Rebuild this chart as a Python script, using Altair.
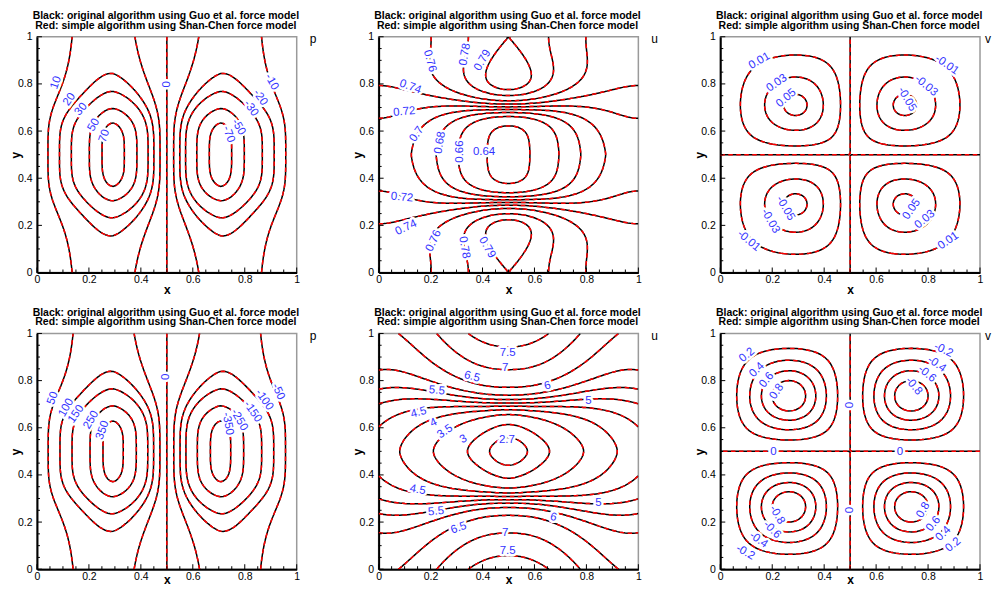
import numpy as np
import pandas as pd
import altair as alt

FONT = "Liberation Sans"
TITLE_LINES = ["Black: original algorithm using Guo et al. force model",
               "Red: simple algorithm using Shan-Chen force model"]
VAR_NAMES = ["p", "u", "v", "p", "u", "v"]
AXIS_TICKS = [0, 0.2, 0.4, 0.6, 0.8, 1]
MINOR_TICKS = [0.05, 0.1, 0.15, 0.25, 0.3, 0.35, 0.45, 0.5, 0.55, 0.65, 0.7, 0.75, 0.85, 0.9, 0.95]

# ---------------- contour levels ----------------
P1_LEVELS = [-70, -50, -30, -20, -10, 0, 10, 20, 30, 50, 70]
U1_LEVELS = [0.64, 0.66, 0.68, 0.7, 0.72, 0.74, 0.76, 0.78, 0.79]
V1_LEVELS = [-0.05, -0.03, -0.01, 0, 0.01, 0.03, 0.05]
P2_LEVELS = [-350, -250, -150, -100, -50, 0, 50, 100, 150, 250, 350]
U2_LEVELS = [2.7, 3, 3.5, 4, 4.5, 5, 5.5, 6, 6.5, 7, 7.5]
V2_LEVELS = [-0.8, -0.6, -0.4, -0.2, 0, 0.2, 0.4, 0.6, 0.8]

# ---------------- contour labels: position, text, rotation ----------------
P1_LX = [0.074, 0.125, 0.17, 0.219, 0.26, 0.5, 0.903, 0.859, 0.823, 0.775, 0.737]
P1_LY = [0.805, 0.734, 0.692, 0.626, 0.579, 0.798, 0.808, 0.742, 0.696, 0.617, 0.586]
P1_LT = ["10", "20", "30", "50", "70", "0", "-10", "-20", "-30", "-50", "-70"]
P1_LA = [290, 305, 310, 300, 290, 270, 60, 55, 55, 60, 70]

U1_LX = [0.196, 0.333, 0.401, 0.122, 0.099, 0.147, 0.237, 0.314, 0.406, 0.09, 0.106, 0.212, 0.329, 0.417]
U1_LY = [0.897, 0.925, 0.9, 0.787, 0.681, 0.586, 0.551, 0.513, 0.511, 0.318, 0.19, 0.134, 0.106, 0.106]
U1_LT = ["0.76", "0.78", "0.79", "0.74", "0.72", "0.7", "0.68", "0.66", "0.64",
         "0.72", "0.74", "0.76", "0.78", "0.79"]
U1_LA = [75, 280, 300, 20, 355, 305, 280, 270, 0, 5, 335, 295, 80, 60]

V1_LX = [0.151, 0.218, 0.254, 0.872, 0.792, 0.718, 0.25, 0.192, 0.109, 0.737, 0.788, 0.878]
V1_LY = [0.897, 0.803, 0.739, 0.880, 0.792, 0.735, 0.272, 0.218, 0.134, 0.268, 0.225, 0.134]
V1_LT = ["0.01", "0.03", "0.05", "-0.01", "-0.03", "-0.05", "-0.05", "-0.03", "-0.01", "0.05", "0.03", "0.01"]
V1_LA = [330, 325, 320, 35, 40, 60, 60, 60, 40, 305, 320, 325]

P2_LX = [0.061, 0.113, 0.151, 0.209, 0.253, 0.497, 0.928, 0.874, 0.83, 0.778, 0.734]
P2_LY = [0.725, 0.685, 0.658, 0.633, 0.59, 0.816, 0.753, 0.718, 0.668, 0.633, 0.617]
P2_LT = ["50", "100", "150", "250", "350", "0", "-50", "-100", "-150", "-250", "-350"]
P2_LA = [290, 300, 305, 300, 290, 270, 65, 55, 55, 60, 80]

U2_LX = [0.497, 0.487, 0.359, 0.65, 0.224, 0.808, 0.154, 0.212, 0.256, 0.327, 0.494,
         0.15, 0.846, 0.221, 0.673, 0.308, 0.487, 0.497]
U2_LY = [0.915, 0.852, 0.816, 0.777, 0.757, 0.715, 0.664, 0.621, 0.583, 0.551, 0.548,
         0.336, 0.28, 0.244, 0.22, 0.174, 0.153, 0.079]
U2_LT = ["7.5", "7", "6.5", "6", "5.5", "5", "4.5", "4", "3.5", "3", "2.7",
         "4.5", "5", "5.5", "6", "6.5", "7", "7.5"]
U2_LA = [0, 0, 15, 345, 5, 0, 345, 335, 325, 330, 0, 10, 0, 355, 15, 340, 0, 0]

V2_LX = [0.103, 0.141, 0.179, 0.218, 0.859, 0.833, 0.795, 0.744, 0.5, 0.205, 0.692, 0.5,
         0.218, 0.199, 0.147, 0.096, 0.782, 0.821, 0.859, 0.897]
V2_LY = [0.908, 0.845, 0.802, 0.753, 0.929, 0.869, 0.828, 0.777, 0.696, 0.496, 0.496, 0.251,
         0.23, 0.167, 0.124, 0.071, 0.251, 0.192, 0.15, 0.103]
V2_LT = ["0.2", "0.4", "0.6", "0.8", "-0.2", "-0.4", "-0.6", "-0.8", "0", "0", "0", "0",
         "-0.8", "-0.6", "-0.4", "-0.2", "0.8", "0.6", "0.4", "0.2"]
V2_LA = [320, 315, 310, 305, 25, 35, 40, 50, 270, 0, 0, 270, 60, 45, 35, 30, 300, 310, 315, 320]

# ---------------- field parameters ----------------
P_SCALE = [1.0, 4.9]          # top / bottom pressure amplitude
P_FAR, P_NEAR, P_BUMP = 12.5, 25.5, 46.0
P_PEAK_D, P_W_IN, P_W_OUT, P_Q, P_R0, P_POW = 0.2, 0.215, 0.09, 1.7, 0.207, 4.0

# u: (value at x=0, value at x=0.5) pairs
U1_PAR = dict(uin=(0.71, 0.635), inshape="sin2", uout=(0.75, 0.796), c=(0.22, 0.2), w=(0.12, 0.045),
              alpha=(1.0, 1.0), dip=0.006, dipw=0.15)
U2_PAR = dict(uin=(4.3, 2.55), inshape="lin", uout=(6.43, 7.8), c=(0.24, 0.2), w=(0.1, 0.045),
              alpha=(0.6, 0.55), dip=0.0, dipw=0.15)

V_AMP = [0.064, 1.13]
V_CENTRE = [0.29, 0.265]

W, H = 260, 236
N = 100
GX = np.linspace(1e-4, 1 - 1e-4, N)
X, Y = np.meshgrid(GX, GX)


def sig(z):
    return 0.5 * (1 + np.tanh(z))


def soft_abs(d, eps=0.05):
    return (np.sqrt(d ** 2 + eps ** 2) - eps) / (np.sqrt(0.25 + eps ** 2) - eps)


def p_field(scale):
    d = np.abs(X - 0.5)
    r = np.abs(Y - 0.5)
    wid = np.where(d < P_PEAK_D, P_W_IN, P_W_OUT)
    e = np.exp(-(np.abs(d - P_PEAK_D) / wid) ** P_Q)
    yr = 1 / (1 + (r / P_R0) ** P_POW)
    q = P_FAR + yr * (P_NEAR + P_BUMP * e)
    return scale * np.sin(2 * np.pi * X) * q


def u_field(par):
    b = np.sin(np.pi * X) ** 2
    r = np.abs(Y - 0.5)
    mix = lambda pair, t=b: pair[0] + (pair[1] - pair[0]) * t
    if par["inshape"] == "lin":
        uin = mix(par["uin"], 1 - soft_abs(np.abs(X - 0.5)))
    else:
        uin = mix(par["uin"])
    uout, c, w, al = mix(par["uout"]), mix(par["c"]), mix(par["w"]), mix(par["alpha"])
    f = al * sig((r - c) / w) + (1 - al) * soft_abs(r)
    dip = par["dip"] * np.exp(-((0.5 - r) / par["dipw"]) ** 2)
    return uin + (uout - uin) * f - dip


def v_field(amp, cx):
    a = np.log(0.5) / np.log(2 * cx)
    qx = np.where(X < 0.5, X, 1 - X)
    qy = np.where(Y < 0.5, Y, 1 - Y)
    sx = np.where(X < 0.5, 1.0, -1.0)
    sy = np.where(Y > 0.5, 1.0, -1.0)
    s = np.sin(np.pi * (qx / 0.5) ** a) * np.sin(np.pi * (qy / 0.5) ** a)
    return sx * sy * amp * (1 - np.sqrt(np.clip(1 - s, 0, 1)))


def contour_paths(Z, level):
    above = Z > level
    code = (above[:-1, :-1].astype(int) + 2 * above[:-1, 1:] + 4 * above[1:, 1:] + 8 * above[1:, :-1])
    js, iis = np.nonzero((code > 0) & (code < 15))
    adj = {}

    def link(a, b):
        adj.setdefault(a, []).append(b)
        adj.setdefault(b, []).append(a)

    for j, i in zip(js.tolist(), iis.tolist()):
        c = int(code[j, i])
        B, R, T, L = (0, j, i), (1, j, i + 1), (0, j + 1, i), (1, j, i)
        if c in (1, 14):
            link(L, B)
        elif c in (2, 13):
            link(B, R)
        elif c in (3, 12):
            link(L, R)
        elif c in (4, 11):
            link(R, T)
        elif c in (6, 9):
            link(B, T)
        elif c in (7, 8):
            link(L, T)
        else:
            centre = Z[j:j + 2, i:i + 2].mean() > level
            if (c == 5) == centre:
                link(B, R); link(T, L)
            else:
                link(L, B); link(R, T)

    def point(e):
        k, j, i = e
        if k == 0:
            z0, z1 = Z[j, i], Z[j, i + 1]
            t = (level - z0) / (z1 - z0)
            return GX[i] + t * (GX[i + 1] - GX[i]), GX[j]
        z0, z1 = Z[j, i], Z[j + 1, i]
        t = (level - z0) / (z1 - z0)
        return GX[i], GX[j] + t * (GX[j + 1] - GX[j])

    used, paths = set(), []
    starts = [n for n, nb in adj.items() if len(nb) == 1] + list(adj.keys())
    for s in starts:
        if s in used:
            continue
        path, cur = [s], s
        used.add(s)
        while True:
            nxt = [n for n in adj[cur] if n not in used]
            if not nxt:
                break
            cur = nxt[0]
            used.add(cur)
            path.append(cur)
        if len(adj[s]) == 2 and s in adj[path[-1]] and len(path) > 2:
            path.append(s)
        paths.append([point(e) for e in path])
    return paths


def contour_frame(Z, levels):
    rows = []
    for li, lev in enumerate(levels):
        for pi, path in enumerate(contour_paths(Z, lev)):
            for k, (px, py) in enumerate(path):
                rows.append((round(float(px), 4), round(float(py), 4), f"{li}_{pi}", k))
    return pd.DataFrame(rows, columns=["x", "y", "seg", "ord"])


FIELDS = [p_field(P_SCALE[0]), u_field(U1_PAR), v_field(V_AMP[0], V_CENTRE[0]),
          p_field(P_SCALE[1]), u_field(U2_PAR), v_field(V_AMP[1], V_CENTRE[1])]
LEVELS = [P1_LEVELS, U1_LEVELS, V1_LEVELS, P2_LEVELS, U2_LEVELS, V2_LEVELS]
LABELS = [(P1_LX, P1_LY, P1_LT, P1_LA), (U1_LX, U1_LY, U1_LT, U1_LA), (V1_LX, V1_LY, V1_LT, V1_LA),
          (P2_LX, P2_LY, P2_LT, P2_LA), (U2_LX, U2_LY, U2_LT, U2_LA), (V2_LX, V2_LY, V2_LT, V2_LA)]

SC = alt.Scale(domain=[0, 1], nice=False, zero=False)


def x_axis(title_y):
    return alt.Axis(values=AXIS_TICKS, format="~g", ticks=False, grid=False, domainColor="black",
                    domainWidth=2, labelColor="black", labelFont=FONT, labelFontSize=10.5,
                    labelPadding=2, labelFlush=False, labelOverlap=False, title="x",
                    titleFont=FONT, titleFontSize=12, titleFontWeight="bold", titleColor="black",
                    titleX=W / 2, titleY=title_y, titleBaseline="alphabetic", titleAlign="center")


Y_AXIS = alt.Axis(values=AXIS_TICKS, format="~g", ticks=False, grid=False, domainColor="black",
                  domainWidth=2, labelColor="black", labelFont=FONT, labelFontSize=10.5,
                  labelPadding=5, labelOverlap=False, title="y", titleFont=FONT, titleFontSize=12,
                  titleFontWeight="bold", titleColor="black", titleAngle=270,
                  titleX=-17, titleY=H / 2, titleBaseline="alphabetic", titleAlign="center")


def text_at(txt, px, py, size, weight="normal", align="center"):
    return alt.Chart(pd.DataFrame({"n": [txt]})).mark_text(
        font=FONT, fontSize=size, fontWeight=weight, color="black", align=align,
        baseline="alphabetic").encode(text="n:N", x=alt.value(px), y=alt.value(py))


def panel(k):
    xa = x_axis(21 if k < 3 else 14)

    def xy():
        return dict(x=alt.X("x:Q", scale=SC, axis=xa), y=alt.Y("y:Q", scale=SC, axis=Y_AXIS))

    df = contour_frame(FIELDS[k], LEVELS[k])
    lx, ly, lt, la = LABELS[k]
    lab = pd.DataFrame({"x": lx, "y": ly, "t": lt, "a": la})
    base = alt.Chart(df)
    black = base.mark_line(color="black", strokeWidth=1.5, clip=True).encode(
        **xy(), detail="seg:N", order="ord:Q")
    red = base.mark_line(color="#ff0000", strokeWidth=1.5, strokeDash=[4.5, 3.5], clip=True).encode(
        **xy(), detail="seg:N", order="ord:Q")
    lbase = alt.Chart(lab).encode(**xy(), text="t:N", angle=alt.Angle("a:Q", scale=None))
    bg = lbase.mark_text(font=FONT, fontSize=11.5, fill="white", stroke="white", strokeWidth=5,
                         strokeJoin="round", align="center", baseline="middle")
    fg = lbase.mark_text(font=FONT, fontSize=11.5, color="#3333ff", align="center", baseline="middle")
    xt = alt.Chart(pd.DataFrame({"x": AXIS_TICKS})).mark_rule(color="black", strokeWidth=1).encode(
        x=alt.X("x:Q", scale=SC, axis=xa), y=alt.value(H), y2=alt.value(H - 5))
    xtm = alt.Chart(pd.DataFrame({"x": MINOR_TICKS})).mark_rule(color="black", strokeWidth=1).encode(
        x=alt.X("x:Q", scale=SC, axis=xa), y=alt.value(H), y2=alt.value(H - 3))
    yt = alt.Chart(pd.DataFrame({"y": AXIS_TICKS})).mark_rule(color="black", strokeWidth=1).encode(
        y=alt.Y("y:Q", scale=SC, axis=Y_AXIS), x=alt.value(0), x2=alt.value(5))
    ytm = alt.Chart(pd.DataFrame({"y": MINOR_TICKS})).mark_rule(color="black", strokeWidth=1).encode(
        y=alt.Y("y:Q", scale=SC, axis=Y_AXIS), x=alt.value(0), x2=alt.value(3))
    name = text_at(VAR_NAMES[k], W + (5 if k % 3 == 2 else 13), 6.5, 12, align="left")
    t1 = text_at(TITLE_LINES[0], W / 2 - 1, -17.5, 10.5, weight="bold")
    t2 = text_at(TITLE_LINES[1], W / 2 - 1, -8, 10.5, weight="bold")
    return alt.layer(black, red, bg, fg, xt, xtm, yt, ytm, name, t1, t2).properties(width=W, height=H)


chart = alt.concat(*[panel(k) for k in range(6)], columns=3,
                   spacing={"row": 61, "column": 82}, bounds="flush").properties(
    padding={"left": 1, "top": 1.5, "right": 0, "bottom": 0}
).configure_view(stroke="#9a9a9a", strokeWidth=1.5)

chart.save("out.html", embed_options={"renderer": "svg", "actions": False})
